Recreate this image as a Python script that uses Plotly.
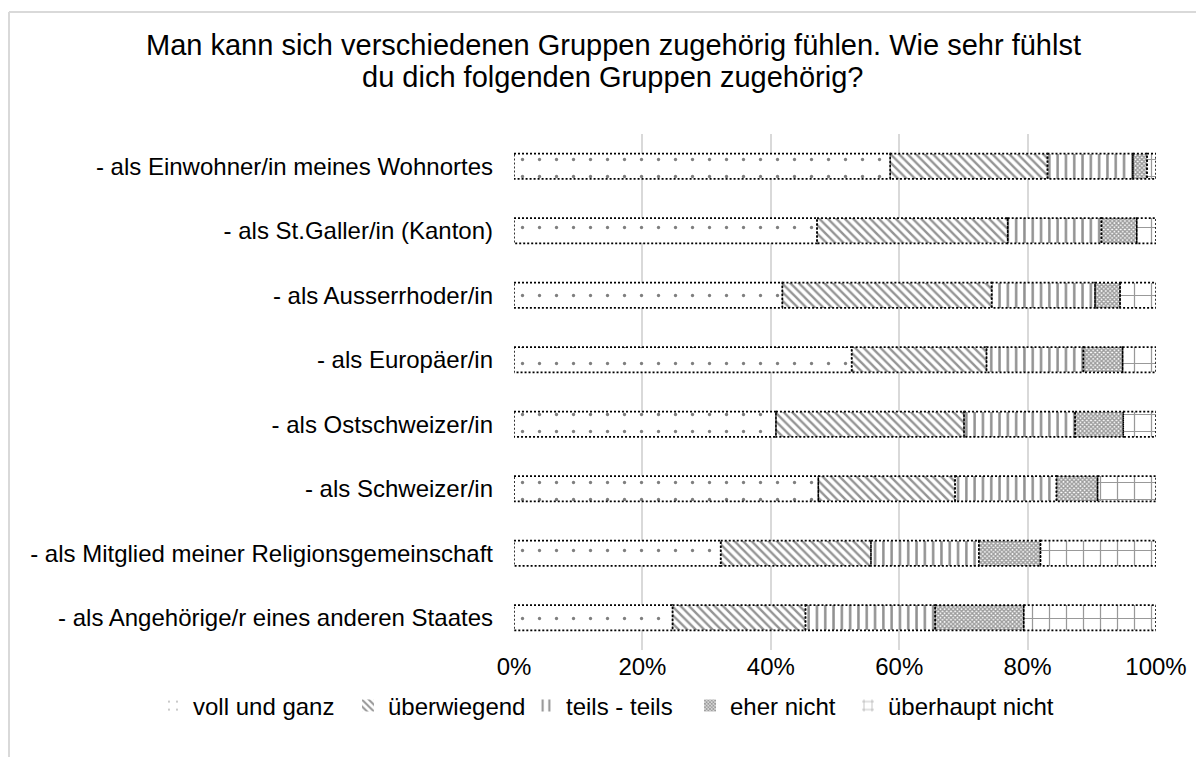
import plotly.graph_objects as go

categories = [
    "- als Einwohner/in meines Wohnortes",
    "- als St.Galler/in (Kanton)",
    "- als Ausserrhoder/in",
    "- als Europäer/in",
    "- als Ostschweizer/in",
    "- als Schweizer/in",
    "- als Mitglied meiner Religionsgemeinschaft",
    "- als Angehörige/r eines anderen Staates",
]
series_names = ["voll und ganz", "überwiegend", "teils - teils", "eher nicht", "überhaupt nicht"]
voll_und_ganz = [58.6, 47.2, 41.8, 52.6, 40.8, 47.4, 32.2, 24.7]
ueberwiegend = [24.5, 29.7, 32.6, 21.0, 29.3, 21.3, 23.4, 20.7]
teils_teils = [13.3, 14.6, 16.1, 15.1, 17.3, 15.8, 16.8, 20.2]
eher_nicht = [2.2, 5.5, 3.9, 6.1, 7.5, 6.4, 9.6, 13.8]
ueberhaupt_nicht = [1.4, 3.0, 5.6, 5.2, 5.1, 9.1, 18.0, 20.6]
tick_values = [0, 20, 40, 60, 80, 100]
tick_labels = ["0%", "20%", "40%", "60%", "80%", "100%"]
title_lines = [
    "Man kann sich verschiedenen Gruppen zugehörig fühlen. Wie sehr fühlst",
    "du dich folgenden Gruppen zugehörig?",
]

series_values = [voll_und_ganz, ueberwiegend, teils_teils, eher_nicht, ueberhaupt_nicht]
patterns = [
    dict(shape=".", size=17, solidity=0.03, fgcolor="#000000", bgcolor="white"),
    dict(shape="\\", size=6, solidity=0.4, fgcolor="#2a2a2a", bgcolor="white"),
    dict(shape="|", size=8.3, solidity=0.3, fgcolor="#222222", bgcolor="white"),
    dict(shape="x", size=3, solidity=0.7, fgcolor="#3a3a3a", bgcolor="white"),
    dict(shape="+", size=17, solidity=0.14, fgcolor="#333333", bgcolor="white"),
]

FONT = "Liberation Sans, Arial, sans-serif"
W, H = 1196, 749
L, R, T, B = 506, 48, 126, 107
PW, PH = W - L - R, H - T - B
legend_text_starts = [185, 380, 558, 722, 880]  # figure pixels


def px_x(x):
    return (x - L) / PW


def px_y(y):
    return (H - B - y) / PH


fig = go.Figure()
legend_ids = ["legend"] + ["legend%d" % k for k in range(2, len(series_names) + 1)]
for name, vals, pat, lid in zip(series_names, series_values, patterns, legend_ids):
    fig.add_trace(go.Bar(
        y=categories, x=vals, name=name, orientation="h", legend=lid,
        marker=dict(color="white", pattern=pat, line=dict(width=0)),
    ))

half = 0.195
shapes = []
for i in range(len(categories)):
    start = 0.0
    for vals in series_values:
        end = start + vals[i]
        shapes.append(dict(type="rect", xref="x", yref="y", x0=start, x1=end,
                           y0=i - half, y1=i + half,
                           line=dict(color="black", width=1.6, dash="2px,2px")))
        start = end

# outer chart border (top and left visible)
shapes.append(dict(type="line", xref="paper", yref="paper",
                   x0=px_x(1), x1=px_x(1), y0=px_y(4), y1=px_y(760),
                   line=dict(color="#d9d9d9", width=2)))
shapes.append(dict(type="line", xref="paper", yref="paper",
                   x0=px_x(1), x1=px_x(1200), y0=px_y(4), y1=px_y(4),
                   line=dict(color="#d9d9d9", width=2)))

annotations = [
    dict(text=title_lines[0], xref="paper", yref="paper", x=px_x(605), y=px_y(37),
         xanchor="center", yanchor="middle", showarrow=False,
         font=dict(family=FONT, size=29, color="#000000")),
    dict(text=title_lines[1], xref="paper", yref="paper", x=px_x(604), y=px_y(69),
         xanchor="center", yanchor="middle", showarrow=False,
         font=dict(family=FONT, size=29, color="#000000")),
]

legends = {}
for lid, tx in zip(legend_ids, legend_text_starts):
    legends[lid] = dict(orientation="h", x=px_x(tx - 40), xanchor="left",
                        y=px_y(698), yanchor="middle", bgcolor="rgba(0,0,0,0)",
                        font=dict(family=FONT, size=24), itemwidth=30)

fig.update_layout(
    width=W, height=H,
    paper_bgcolor="white", plot_bgcolor="white",
    barmode="stack", bargap=0.61,
    margin=dict(l=L, r=R, t=T, b=B, autoexpand=False),
    font=dict(family=FONT, size=24, color="#000000"),
    xaxis=dict(range=[0, 100], tickvals=tick_values, ticktext=tick_labels,
               showgrid=True, gridcolor="#d9d9d9", gridwidth=2,
               zeroline=False, showline=False, ticks="", fixedrange=True),
    yaxis=dict(categoryorder="array", categoryarray=categories, autorange="reversed",
               showgrid=False, zeroline=False, showline=False, ticks="",
               ticklabelstandoff=20),
    shapes=shapes,
    annotations=annotations,
    showlegend=True,
    **legends,
)

fig.write_html("out.html")
